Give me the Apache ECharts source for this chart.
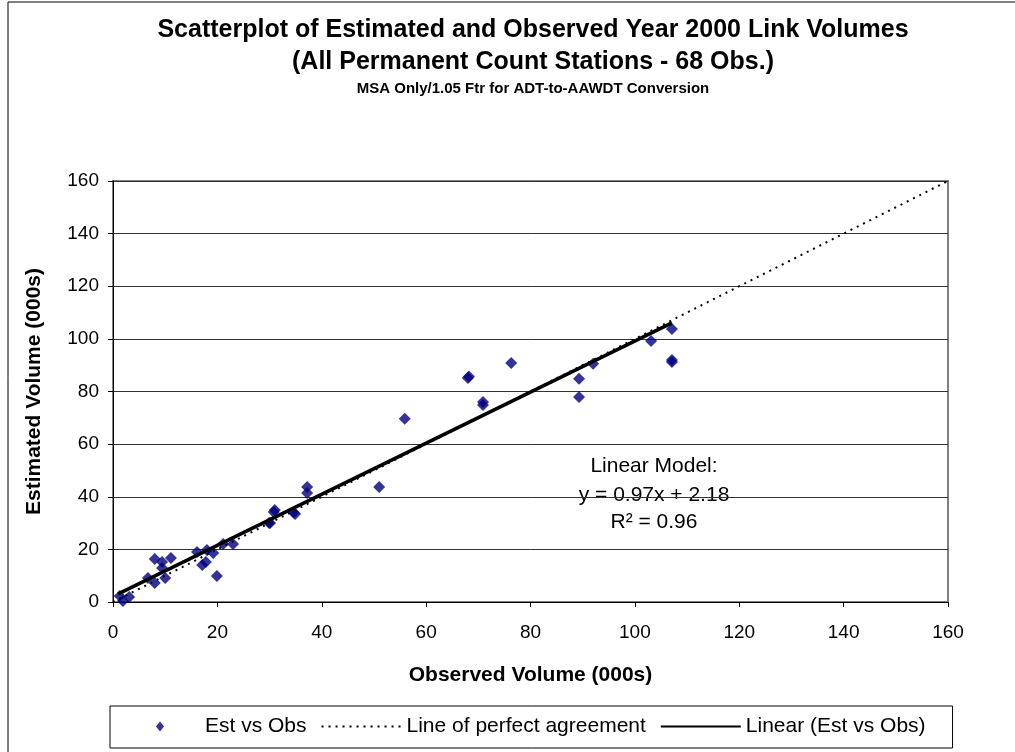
<!DOCTYPE html>
<html>
<head>
<meta charset="utf-8">
<script src="https://cdn.jsdelivr.net/npm/echarts@6/dist/echarts.min.js"></script>
<style>
html,body{margin:0;padding:0;background:#fff;}
#chart{width:1015px;height:752px;}
</style>
</head>
<body>
<div id="chart"></div>
<script>
// Observed volume (000s)
const obsX = [31.0, 29.9, 23.0, 21.1, 19.2, 18.0, 16.1, 17.1, 17.8, 19.9, 11.1, 8.0, 9.4, 9.4, 10.0, 8.0, 6.7, 1.3, 1.9, 3.1,
              34.9, 34.6, 37.2, 37.2, 51.0, 55.9, 68.0, 68.2, 70.9, 70.9, 76.3, 89.3, 89.3, 92.0, 103.1, 107.1, 107.1, 107.1, 30.1, 30.8];
// Estimated volume (000s)
const estY = [35.0, 30.0, 22.0, 22.0, 18.6, 19.8, 19.0, 14.1, 15.2, 9.9, 16.7, 16.3, 15.2, 12.9, 9.1, 7.2, 9.1, 2.3, 0.4, 1.9,
              33.4, 34.0, 43.7, 41.4, 43.7, 69.6, 85.1, 85.7, 74.9, 76.0, 90.8, 84.8, 77.9, 90.5, 99.2, 103.8, 91.2, 92.0, 30.0, 34.2];
// Line of perfect agreement endpoints
const perfectX = [0, 160];
const perfectY = [0, 160];
// Linear fit (y = 0.97x + 2.18) endpoints
const fitX = [1.0, 107.1];
const fitY = [3.1, 106.1];
// Axis ticks
const xTicks = [0, 20, 40, 60, 80, 100, 120, 140, 160];
const yTicks = [0, 20, 40, 60, 80, 100, 120, 140, 160];

const titleLines = [
  'Scatterplot of Estimated and Observed Year 2000 Link Volumes',
  '(All Permanent Count Stations - 68 Obs.)',
  'MSA Only/1.05 Ftr for ADT-to-AAWDT Conversion'
];
const modelLines = ['Linear Model:', 'y = 0.97x + 2.18', 'R\u00B2 = 0.96'];
const legendNames = ['Est vs Obs', 'Line of perfect agreement', 'Linear (Est vs Obs)'];

const scatterData = obsX.map((x, i) => [x, estY[i]]);
const perfectData = perfectX.map((x, i) => [x, perfectY[i]]);
const fitData = fitX.map((x, i) => [x, fitY[i]]);

const FONT = 'Liberation Sans, Arial, sans-serif';
const chart = echarts.init(document.getElementById('chart'));
chart.setOption({
  animation: false,
  backgroundColor: '#fff',
  grid: {left: 113, right: 67, top: 181, bottom: 150, show: true, borderColor: '#808080', borderWidth: 2, backgroundColor: 'transparent'},
  xAxis: {
    type: 'value', min: xTicks[0], max: xTicks[xTicks.length - 1], interval: 20,
    name: 'Observed Volume (000s)', nameLocation: 'middle', nameGap: 63,
    nameTextStyle: {fontFamily: FONT, fontWeight: 'bold', fontSize: 21, color: '#000'},
    axisLine: {show: true, onZero: false, lineStyle: {color: '#000', width: 1}},
    axisTick: {show: true, inside: false, length: 5, lineStyle: {color: '#000'}},
    axisLabel: {fontFamily: FONT, fontSize: 19, color: '#000', margin: 21},
    splitLine: {show: false}
  },
  yAxis: {
    type: 'value', min: yTicks[0], max: yTicks[yTicks.length - 1], interval: 20,
    name: 'Estimated Volume (000s)', nameLocation: 'middle', nameGap: 68,
    nameTextStyle: {fontFamily: FONT, fontWeight: 'bold', fontSize: 21, color: '#000'},
    axisLine: {show: true, onZero: false, lineStyle: {color: '#000', width: 1}},
    axisTick: {show: true, inside: false, length: 5, lineStyle: {color: '#000'}},
    axisLabel: {fontFamily: FONT, fontSize: 19, color: '#000', margin: 14},
    splitLine: {show: true, lineStyle: {color: '#333', width: 1}}
  },
  legend: {
    left: 110, top: 706,
    borderColor: '#000', borderWidth: 1,
    padding: [10, 27, 11, 10],
    itemWidth: 80, itemHeight: 10, itemGap: 14,
    textStyle: {fontFamily: FONT, fontSize: 21, color: '#000'},
    data: [
      {name: legendNames[0], icon: 'path://M0,5L0,5.01M80,5L80,5.01M36,5L40,0L44,5L40,10Z'},
      {name: legendNames[1], itemStyle: {color: 'rgba(0,0,0,0)', borderWidth: 0}},
      {name: legendNames[2], itemStyle: {color: 'rgba(0,0,0,0)', borderWidth: 0}}
    ]
  },
  graphic: [
    {type: 'rect', shape: {x: 8, y: 2, width: 1020, height: 760}, style: {fill: 'none', stroke: '#000', lineWidth: 1}, silent: true, z: -1},
    {type: 'text', x: 533, y: 30, style: {text: titleLines[0], font: 'bold 25px ' + FONT, fill: '#000', align: 'center', verticalAlign: 'middle'}},
    {type: 'text', x: 533, y: 62, style: {text: titleLines[1], font: 'bold 25px ' + FONT, fill: '#000', align: 'center', verticalAlign: 'middle'}},
    {type: 'text', x: 533, y: 89, style: {text: titleLines[2], font: 'bold 15px ' + FONT, fill: '#000', align: 'center', verticalAlign: 'middle'}},
    {type: 'text', x: 654, y: 466, style: {text: modelLines[0], font: '21px ' + FONT, fill: '#000', align: 'center', verticalAlign: 'middle'}},
    {type: 'text', x: 654, y: 495, style: {text: modelLines[1], font: '21px ' + FONT, fill: '#000', align: 'center', verticalAlign: 'middle'}},
    {type: 'text', x: 654, y: 522, style: {text: modelLines[2], font: '21px ' + FONT, fill: '#000', align: 'center', verticalAlign: 'middle'}}
  ],
  series: [
    {
      name: legendNames[0], type: 'scatter', data: scatterData,
      symbol: 'diamond', symbolSize: 12,
      itemStyle: {color: '#000080'}, z: 3
    },
    {
      name: legendNames[1], type: 'line', data: perfectData,
      symbol: 'none', showSymbol: false,
      lineStyle: {color: '#000', width: 2, type: [2, 5]},
      itemStyle: {color: '#000'}, z: 4
    },
    {
      name: legendNames[2], type: 'line', data: fitData,
      symbol: 'none', showSymbol: false,
      lineStyle: {color: '#000', width: 3.5},
      itemStyle: {color: '#000'}, z: 5
    }
  ]
});
</script>
</body>
</html>
